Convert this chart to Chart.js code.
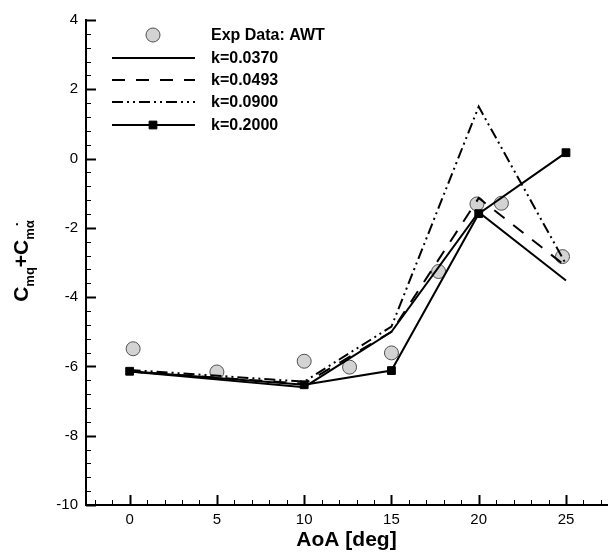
<!DOCTYPE html>
<html>
<head>
<meta charset="utf-8">
<script src="https://cdn.jsdelivr.net/npm/chart.js@4/dist/chart.umd.min.js"></script>
<style>
  html, body { margin: 0; padding: 0; background: #ffffff; }
  canvas { display: block; }
</style>
</head>
<body>
<canvas id="c" width="615" height="553"></canvas>
<script>
const FONT = '"Liberation Sans", Arial, Helvetica, sans-serif';

// Wind tunnel measurements (AWT)
const expAoA = [0.2, 5.0, 10.0, 12.6, 15.0, 17.7, 19.9, 21.3, 24.8];
const expCm  = [-5.49, -6.16, -5.85, -6.02, -5.61, -3.26, -1.31, -1.29, -2.83];

// Computed pitch damping at four reduced frequencies
const cfdAoA  = [0, 10, 15, 20, 25];
const cmK0370 = [-6.15, -6.60, -5.00, -1.55, -3.52];
const cmK0493 = [-6.15, -6.50, -5.00, -1.14, -3.11];
const cmK0900 = [-6.10, -6.44, -4.85, 1.50, -3.05];
const cmK2000 = [-6.14, -6.53, -6.12, -1.59, 0.17];

const seriesLabels = ['Exp Data: AWT', 'k=0.0370', 'k=0.0493', 'k=0.0900', 'k=0.2000'];
const xTickValues = [0, 5, 10, 15, 20, 25];
const yTickValues = [-10, -8, -6, -4, -2, 0, 2, 4];
const xAxisTitle = 'AoA [deg]';

function pts(xs, ys) { return xs.map((x, i) => ({ x: x, y: ys[i] })); }

// Tecplot-style inward tick marks: majors on labelled values, minors between
const innerTicks = {
  id: 'innerTicks',
  afterDraw(chart) {
    const { ctx, chartArea: a, scales: { x, y } } = chart;
    ctx.save();
    ctx.strokeStyle = '#000';
    for (let v = Math.ceil(x.min); v <= x.max; v++) {
      const major = v % 5 === 0;
      const px = Math.round(x.getPixelForValue(v)) + 0.5;
      ctx.lineWidth = major ? 2 : 1;
      ctx.beginPath();
      ctx.moveTo(px, a.bottom);
      ctx.lineTo(px, a.bottom - (major ? 10 : 5));
      ctx.stroke();
    }
    for (let i = 0; i <= 35; i++) {
      const v = y.min + i * 0.4;
      const major = i % 5 === 0;
      const py = Math.round(y.getPixelForValue(v)) + 0.5;
      ctx.lineWidth = major ? 2 : 1;
      ctx.beginPath();
      ctx.moveTo(a.left, py);
      ctx.lineTo(a.left + (major ? 10 : 5), py);
      ctx.stroke();
    }
    ctx.restore();
  }
};

// Legend in the upper left of the plot, one row per dataset
const plotLegend = {
  id: 'plotLegend',
  afterDraw(chart) {
    const ctx = chart.ctx;
    const x0 = 112, x1 = 195, xc = 153, xt = 211;
    const rowY = [35, 58, 80, 102, 125];
    ctx.save();
    chart.data.datasets.forEach((ds, i) => {
      const yy = rowY[i];
      if (ds.showLine !== false) {
        ctx.strokeStyle = ds.borderColor;
        ctx.lineWidth = ds.borderWidth;
        ctx.setLineDash(ds.borderDash || []);
        ctx.beginPath();
        ctx.moveTo(x0, yy);
        ctx.lineTo(x1, yy);
        ctx.stroke();
        ctx.setLineDash([]);
      }
      if (ds.pointRadius > 0) {
        ctx.fillStyle = ds.pointBackgroundColor;
        ctx.strokeStyle = ds.pointBorderColor;
        ctx.lineWidth = ds.pointBorderWidth;
        Chart.helpers.drawPoint(ctx, {
          pointStyle: ds.pointStyle, radius: ds.pointRadius,
          rotation: 0, borderWidth: ds.pointBorderWidth
        }, xc, yy);
      }
      ctx.fillStyle = '#000';
      ctx.font = 'bold 16px ' + FONT;
      ctx.textAlign = 'left';
      ctx.textBaseline = 'middle';
      ctx.fillText(ds.label, xt, yy + 1);
    });
    ctx.restore();
  }
};

// Rotated y-axis title with subscripts: C_mq + C_m(alpha-dot)
const yTitle = {
  id: 'yTitle',
  afterDraw(chart) {
    const ctx = chart.ctx;
    const big = 'bold 21px ' + FONT;
    const sub = 'bold 13px ' + FONT;
    const parts = [
      { t: 'C', f: big, dy: 0 },
      { t: 'mq', f: sub, dy: 6 },
      { t: '+', f: big, dy: 0 },
      { t: 'C', f: big, dy: 0 },
      { t: 'm\u03B1', f: sub, dy: 6 }
    ];
    let total = 0;
    parts.forEach(p => { ctx.font = p.f; p.w = ctx.measureText(p.t).width; total += p.w; });
    const baseX = 28, centerY = 261;
    ctx.save();
    ctx.translate(baseX, centerY + total / 2);
    ctx.rotate(-Math.PI / 2);
    ctx.fillStyle = '#000';
    ctx.textAlign = 'left';
    ctx.textBaseline = 'alphabetic';
    let cx = 0, alphaMid = 0;
    parts.forEach((p, i) => {
      ctx.font = p.f;
      ctx.fillText(p.t, cx, p.dy);
      if (i === parts.length - 1) {
        const mw = ctx.measureText('m').width;
        alphaMid = cx + mw + (p.w - mw) / 2;
      }
      cx += p.w;
    });
    // dot over alpha
    ctx.font = sub;
    ctx.textAlign = 'center';
    ctx.fillText('.', alphaMid, -10);
    ctx.restore();
  }
};

const chart = new Chart(document.getElementById('c'), {
  type: 'line',
  data: {
    datasets: [
      {
        label: seriesLabels[0], data: pts(expAoA, expCm), showLine: false, order: 5,
        pointStyle: 'circle', pointRadius: 7, pointBackgroundColor: '#d3d3d3',
        pointBorderColor: '#505050', pointBorderWidth: 1, borderColor: '#505050'
      },
      {
        label: seriesLabels[1], data: pts(cfdAoA, cmK0370), order: 1,
        borderColor: '#000', borderWidth: 2, pointRadius: 0
      },
      {
        label: seriesLabels[2], data: pts(cfdAoA, cmK0493), order: 1,
        borderColor: '#000', borderWidth: 2, borderDash: [13, 11], pointRadius: 0
      },
      {
        label: seriesLabels[3], data: pts(cfdAoA, cmK0900), order: 1,
        borderColor: '#000', borderWidth: 2, borderDash: [11, 4, 2, 4, 2, 4], pointRadius: 0
      },
      {
        label: seriesLabels[4], data: pts(cfdAoA, cmK2000), order: 1,
        borderColor: '#000', borderWidth: 2, pointStyle: 'rect', pointRadius: 5.5,
        pointBackgroundColor: '#000', pointBorderColor: '#000', pointBorderWidth: 1
      }
    ]
  },
  options: {
    responsive: false,
    animation: false,
    devicePixelRatio: 1,
    layout: { padding: { top: 20, left: 0, right: 0, bottom: 0 } },
    plugins: { legend: { display: false }, tooltip: { enabled: false } },
    elements: { line: { tension: 0 } },
    scales: {
      x: {
        type: 'linear', min: -2.5, max: 27.35,
        afterBuildTicks: s => { s.ticks = xTickValues.map(v => ({ value: v })); },
        afterFit: s => { s.height = 48; },
        grid: { display: false, drawTicks: false },
        border: { display: true, color: '#000', width: 2 },
        ticks: { autoSkip: false, maxRotation: 0, padding: 6, color: '#000',
                 font: { family: FONT, size: 15 } },
        title: { display: true, text: xAxisTitle, color: '#000',
                 font: { family: FONT, size: 21, weight: 'bold' }, padding: { top: 0, bottom: 0 } }
      },
      y: {
        type: 'linear', min: -10, max: 4,
        afterBuildTicks: s => { s.ticks = yTickValues.map(v => ({ value: v })); },
        afterFit: s => { s.width = 86; },
        grid: { display: false, drawTicks: false },
        border: { display: true, color: '#000', width: 2 },
        ticks: { autoSkip: false, padding: 8, color: '#000',
                 font: { family: FONT, size: 15 } }
      }
    }
  },
  plugins: [innerTicks, plotLegend, yTitle]
});
</script>
</body>
</html>
